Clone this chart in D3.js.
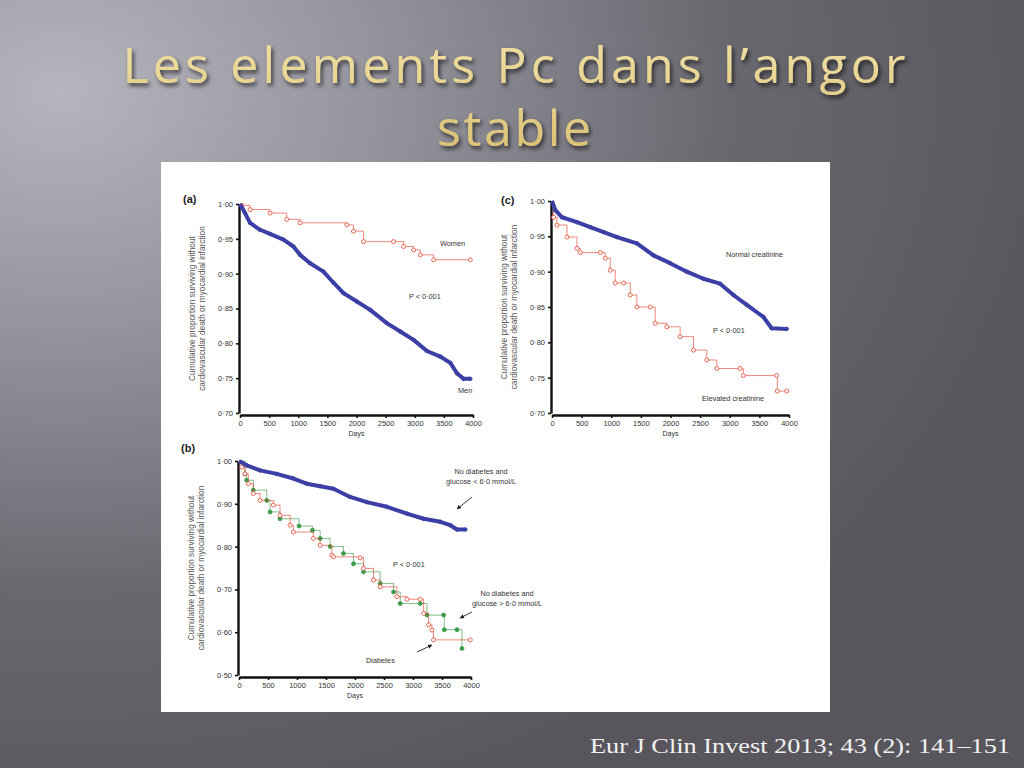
<!DOCTYPE html>
<html>
<head>
<meta charset="utf-8">
<script src="https://cdn.jsdelivr.net/npm/d3@7"></script>
<style>
  html, body { margin: 0; padding: 0; }
  body { width: 1024px; height: 768px; overflow: hidden; }
</style>
</head>
<body>
<div id="chart"></div>
<script>
// ---- data ----
const xTicks = [0, 500, 1000, 1500, 2000, 2500, 3000, 3500, 4000];
const yTicksAC = [0.70, 0.75, 0.80, 0.85, 0.90, 0.95, 1.00];
const yTicksB = [0.50, 0.60, 0.70, 0.80, 0.90, 1.00];

// (a) sex
const menDays = [0, 86, 172, 344, 516, 745, 917, 1032, 1203, 1433, 1605, 1777, 2006, 2235, 2521, 2751, 2980, 3209, 3438, 3610, 3725, 3840, 3954];
const menSurv = [1.0, 0.987, 0.973, 0.963, 0.957, 0.949, 0.939, 0.927, 0.915, 0.903, 0.887, 0.872, 0.860, 0.848, 0.829, 0.817, 0.805, 0.789, 0.781, 0.772, 0.757, 0.749, 0.749];
const womenDays = [0, 30, 172, 516, 802, 1032, 1834, 1948, 2120, 2636, 2808, 2980, 3095, 3324, 3954];
const womenSurv = [1.0, 0.998, 0.992, 0.987, 0.978, 0.973, 0.970, 0.961, 0.946, 0.946, 0.939, 0.934, 0.927, 0.920, 0.920];

// (c) creatinine
const normCreatDays = [0, 56, 169, 421, 646, 871, 1096, 1433, 1713, 1994, 2275, 2556, 2837, 3062, 3287, 3567, 3708, 3961];
const normCreatSurv = [1.0, 0.987, 0.977, 0.970, 0.963, 0.956, 0.949, 0.940, 0.923, 0.912, 0.900, 0.890, 0.883, 0.867, 0.853, 0.836, 0.820, 0.819];
const elevCreatDays = [0, 28, 84, 253, 421, 478, 815, 899, 983, 1067, 1208, 1320, 1433, 1657, 1742, 1938, 2163, 2388, 2612, 2781, 3174, 3230, 3792, 3803, 3961];
const elevCreatSurv = [1.0, 0.977, 0.966, 0.949, 0.933, 0.927, 0.927, 0.919, 0.902, 0.884, 0.884, 0.867, 0.850, 0.850, 0.827, 0.822, 0.808, 0.789, 0.775, 0.763, 0.763, 0.753, 0.753, 0.731, 0.731];

// (b) glucose / diabetes
const lowGluDays = [0, 132, 363, 650, 938, 1168, 1399, 1629, 1916, 2204, 2550, 2895, 3183, 3470, 3643, 3758, 3902];
const lowGluSurv = [1.0, 0.990, 0.978, 0.970, 0.959, 0.947, 0.941, 0.935, 0.916, 0.904, 0.893, 0.877, 0.865, 0.858, 0.850, 0.840, 0.840];
const diabDays = [0, 46, 104, 161, 247, 363, 593, 707, 881, 938, 1283, 1399, 1600, 1629, 2089, 2147, 2319, 2435, 2722, 2895, 3125, 3183, 3269, 3327, 3353, 3988];
const diabSurv = [1.0, 0.986, 0.970, 0.947, 0.924, 0.908, 0.897, 0.873, 0.850, 0.834, 0.819, 0.803, 0.780, 0.776, 0.774, 0.749, 0.722, 0.706, 0.683, 0.677, 0.677, 0.644, 0.617, 0.605, 0.582, 0.582];
const highGluDays = [0, 104, 132, 247, 478, 535, 707, 1036, 1266, 1399, 1571, 1801, 1974, 2147, 2435, 2665, 2780, 3125, 3240, 3528, 3540, 3758, 3844];
const highGluSurv = [1.0, 0.970, 0.955, 0.932, 0.908, 0.881, 0.865, 0.848, 0.838, 0.819, 0.800, 0.784, 0.760, 0.741, 0.714, 0.694, 0.667, 0.667, 0.640, 0.640, 0.606, 0.606, 0.562];

const W = 1024, H = 768;
const BLUE = '#3b3fa6', RED = '#e2452f', GREEN = '#3c9a4a';

const svg = d3.select('#chart').append('svg').attr('width', W).attr('height', H);
const defs = svg.append('defs');

// slide background
const bg = defs.append('radialGradient').attr('id', 'bg')
  .attr('cx', '0.06').attr('cy', '0.12').attr('r', '1.0');
bg.append('stop').attr('offset', '0').attr('stop-color', '#b6b4bd');
bg.append('stop').attr('offset', '0.3').attr('stop-color', '#96949d');
bg.append('stop').attr('offset', '0.65').attr('stop-color', '#6a686f');
bg.append('stop').attr('offset', '1').attr('stop-color', '#58565c');
svg.append('rect').attr('width', W).attr('height', H).attr('fill', 'url(#bg)');

const shadow = defs.append('filter').attr('id', 'shadow').attr('x', '-10%').attr('y', '-20%').attr('width', '120%').attr('height', '150%');
shadow.append('feDropShadow').attr('dx', 2).attr('dy', 3).attr('stdDeviation', 2).attr('flood-color', '#000').attr('flood-opacity', 0.65);

const gold = defs.append('linearGradient').attr('id', 'gold').attr('x1', 0).attr('y1', 0).attr('x2', 0).attr('y2', 1);
gold.append('stop').attr('offset', '0').attr('stop-color', '#f1e2a6');
gold.append('stop').attr('offset', '1').attr('stop-color', '#d9bf72');

// title
const title = svg.append('text')
  .attr('text-anchor', 'middle')
  .attr('font-family', 'Open Sans, sans-serif')
  .attr('font-size', 50)
  .attr('fill', 'url(#gold)').attr('filter', 'url(#shadow)');
title.append('tspan').attr('x', 514).attr('y', 83)
  .attr('textLength', 783).attr('lengthAdjust', 'spacing').text('Les elements Pc dans l’angor');
title.append('tspan').attr('x', 514).attr('y', 146)
  .attr('textLength', 154).attr('lengthAdjust', 'spacing').text('stable');

// white figure area
svg.append('rect').attr('x', 161).attr('y', 162).attr('width', 669).attr('height', 550).attr('fill', '#fff');

// citation
svg.append('text').attr('x', 590).attr('y', 753)
  .attr('font-family', 'Liberation Serif, serif').attr('font-size', 22)
  .attr('textLength', 420).attr('lengthAdjust', 'spacingAndGlyphs')
  .attr('fill', '#f2f2f2').text('Eur J Clin Invest 2013; 43 (2): 141–151');

const fmt = v => d3.format('.2f')(v).replace('.', '·');

function drawPanel(p) {
  const x = d3.scaleLinear().domain([0, 4000]).range([p.x0, p.x1]);
  const y = d3.scaleLinear().domain(p.yDomain).range([p.y1, p.y0]);
  const g = svg.append('g').attr('font-family', 'Liberation Sans, Arial, sans-serif');

  const xAxis = g.append('g').attr('transform', `translate(0,${p.y1 + 2})`)
    .call(d3.axisBottom(x).tickValues(xTicks).tickSize(3).tickSizeOuter(0).tickFormat(d3.format('d')));
  const yAxis = g.append('g').attr('transform', `translate(${p.x0 - 1},0)`)
    .call(d3.axisLeft(y).tickValues(p.yTicks).tickSize(3).tickSizeOuter(0).tickFormat(fmt));
  [xAxis, yAxis].forEach(a => {
    a.select('.domain').attr('stroke', '#111').attr('stroke-width', 2.4);
    a.selectAll('.tick line').attr('stroke', '#111').attr('stroke-width', 1.6);
    a.selectAll('.tick text').attr('font-size', 7.5).attr('fill', '#333');
  });

  g.append('text').attr('x', (p.x0 + p.x1) / 2).attr('y', p.y1 + 23)
    .attr('text-anchor', 'middle').attr('font-size', 7).attr('fill', '#333').text('Days');

  const yl = g.append('text').attr('transform', `translate(${p.x0 - 45},${(p.y0 + p.y1) / 2}) rotate(-90)`)
    .attr('text-anchor', 'middle').attr('font-size', 8.3).attr('fill', '#555');
  yl.append('tspan').attr('x', 0).attr('dy', 0).text('Cumulative proportion surviving without');
  yl.append('tspan').attr('x', 0).attr('dy', 9.5).text('cardiovascular death or myocardial infarction');

  g.append('text').attr('x', p.labelX).attr('y', p.labelY)
    .attr('font-size', 11).attr('font-weight', 'bold').attr('fill', '#222').text(p.label);

  p.series.forEach(s => {
    const pts = d3.zip(s.days, s.surv);
    const line = d3.line().x(d => x(d[0])).y(d => y(d[1])).curve(s.step ? d3.curveStepAfter : d3.curveLinear);
    g.append('path').datum(pts).attr('d', line)
      .attr('fill', 'none').attr('stroke', s.color).attr('stroke-width', s.width)
      .attr('stroke-opacity', s.opacity).attr('stroke-linejoin', 'round');
    g.append('g').selectAll('circle').data(pts.slice(1)).join('circle')
      .attr('cx', d => x(d[0])).attr('cy', d => y(d[1])).attr('r', s.r)
      .attr('fill', s.fill).attr('stroke', s.color).attr('stroke-width', 0.8);
  });

  p.notes.forEach(n => {
    g.append('text').attr('x', n.x).attr('y', n.y).attr('text-anchor', n.anchor || 'start')
      .attr('font-size', 7.3).attr('fill', '#333').text(n.t);
  });
  (p.arrows || []).forEach(a => {
    g.append('line').attr('x1', a[0]).attr('y1', a[1]).attr('x2', a[2]).attr('y2', a[3])
      .attr('stroke', '#222').attr('stroke-width', 0.9).attr('marker-end', 'url(#arrow)');
  });
}

defs.append('marker').attr('id', 'arrow').attr('viewBox', '0 0 10 10')
  .attr('refX', 9).attr('refY', 5).attr('markerWidth', 5).attr('markerHeight', 5).attr('orient', 'auto')
  .append('path').attr('d', 'M0,0L10,5L0,10z').attr('fill', '#222');

const blueStyle = { color: BLUE, width: 4, r: 1.8, fill: BLUE, opacity: 1, step: false };
const redStyle = { color: RED, width: 0.8, r: 2, fill: '#fff', opacity: 0.8, step: true };

drawPanel({
  x0: 240, x1: 473, y0: 204, y1: 413, yDomain: [0.70, 1.00], yTicks: yTicksAC,
  label: '(a)', labelX: 183, labelY: 203,
  series: [
    Object.assign({ days: womenDays, surv: womenSurv }, redStyle),
    Object.assign({ days: menDays, surv: menSurv }, blueStyle)
  ],
  notes: [
    { x: 440, y: 246, t: 'Women' },
    { x: 409, y: 299, t: 'P < 0·001' },
    { x: 458, y: 393, t: 'Men' }
  ]
});

drawPanel({
  x0: 552, x1: 789, y0: 201, y1: 413, yDomain: [0.70, 1.00], yTicks: yTicksAC,
  label: '(c)', labelX: 501, labelY: 204,
  series: [
    Object.assign({ days: elevCreatDays, surv: elevCreatSurv }, redStyle),
    Object.assign({ days: normCreatDays, surv: normCreatSurv }, blueStyle)
  ],
  notes: [
    { x: 726, y: 257, t: 'Normal creatinine' },
    { x: 713, y: 333, t: 'P < 0·001' },
    { x: 702, y: 401, t: 'Elevated creatinine' }
  ]
});

drawPanel({
  x0: 239, x1: 471, y0: 461, y1: 675, yDomain: [0.50, 1.00], yTicks: yTicksB,
  label: '(b)', labelX: 181, labelY: 452,
  series: [
    Object.assign({ days: highGluDays, surv: highGluSurv }, { color: GREEN, width: 0.8, r: 2, fill: GREEN, opacity: 0.8, step: true }),
    Object.assign({ days: diabDays, surv: diabSurv }, redStyle),
    Object.assign({ days: lowGluDays, surv: lowGluSurv }, blueStyle)
  ],
  notes: [
    { x: 481, y: 474, t: 'No diabetes and', anchor: 'middle' },
    { x: 481, y: 484, t: 'glucose < 6·0 mmol/L', anchor: 'middle' },
    { x: 393, y: 567, t: 'P < 0·001' },
    { x: 507, y: 596, t: 'No diabetes and', anchor: 'middle' },
    { x: 507, y: 606, t: 'glucose > 6·0 mmol/L', anchor: 'middle' },
    { x: 366, y: 663, t: 'Diabetes' }
  ],
  arrows: [[472, 497, 457, 509], [472, 612, 460, 618], [417, 652, 432, 645]]
});
</script>
</body>
</html>
